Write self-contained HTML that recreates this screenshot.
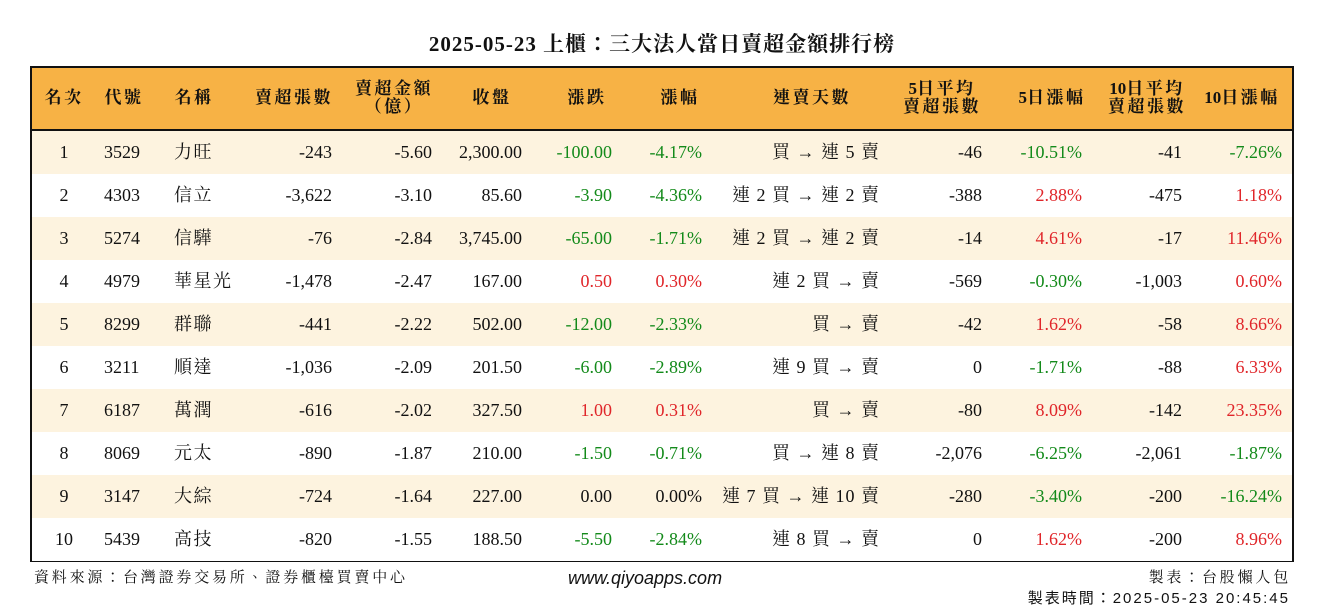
<!DOCTYPE html>
<html><head><meta charset="utf-8">
<style>
body{margin:0;width:1324px;height:612px;background:#fff;position:relative;overflow:hidden;font-family:"Liberation Serif","Noto Serif CJK TC","Noto Serif CJK SC",serif;color:#111}
.abs{position:absolute;white-space:nowrap}
#title{left:0;width:1324px;top:28px;text-align:center;font-size:21px;font-weight:bold;letter-spacing:1px}
#table{left:30px;top:66px;width:1260px;height:492px;border:2px solid #111}
#hdr{left:0;top:0;width:1260px;height:61px;background:#f7b245;border-bottom:3px solid #111}
.h{font-size:17px;font-weight:bold;line-height:18px;text-align:center;letter-spacing:2.5px}
.h .n{letter-spacing:0}
.c{font-size:18px;line-height:20px}
.cjk{letter-spacing:1.5px}
.st{letter-spacing:1px}
.red{color:#e0262a}.green{color:#138a1a}
.foot{font-size:15px;letter-spacing:2.8px}
</style></head><body>
<div id="title" class="abs">2025-05-23 上櫃：三大法人當日賣超金額排行榜</div>
<div id="table" class="abs">
<div id="hdr" class="abs"></div>
</div>
<div class="abs foot" style="left:34px;top:566px">資料來源：台灣證券交易所、證券櫃檯買賣中心</div>
<div class="abs" style="left:568px;top:568px;font-family:'Liberation Sans',sans-serif;font-style:italic;font-size:18px">www.qiyoapps.com</div>
<div class="abs foot" style="right:33px;top:566px">製表：台股懶人包</div>
<div class="abs foot" style="right:34px;top:587px;letter-spacing:2px;font-family:'Liberation Sans','Noto Sans CJK TC',sans-serif">製表時間：2025-05-23 20:45:45</div>
<script>
const headers=["名次","代號","名稱","賣超張數","賣超金額<br>（億）","收盤","漲跌","漲幅","連賣天數","<span class='n'>5</span>日平均<br>賣超張數","<span class='n'>5</span>日漲幅","<span class='n'>10</span>日平均<br>賣超張數","<span class='n'>10</span>日漲幅"];
const ranks=["1","2","3","4","5","6","7","8","9","10"];
const codes=["3529","4303","5274","4979","8299","3211","6187","8069","3147","5439"];
const names=["力旺","信立","信驊","華星光","群聯","順達","萬潤","元太","大綜","高技"];
const sellLots=["-243","-3,622","-76","-1,478","-441","-1,036","-616","-890","-724","-820"];
const sellAmt=["-5.60","-3.10","-2.84","-2.47","-2.22","-2.09","-2.02","-1.87","-1.64","-1.55"];
const closes=["2,300.00","85.60","3,745.00","167.00","502.00","201.50","327.50","210.00","227.00","188.50"];
const changes=["-100.00","-3.90","-65.00","0.50","-12.00","-6.00","1.00","-1.50","0.00","-5.50"];
const pcts=["-4.17%","-4.36%","-1.71%","0.30%","-2.33%","-2.89%","0.31%","-0.71%","0.00%","-2.84%"];
const streaks=["買 → 連 5 賣","連 2 買 → 連 2 賣","連 2 買 → 連 2 賣","連 2 買 → 賣","買 → 賣","連 9 買 → 賣","買 → 賣","買 → 連 8 賣","連 7 買 → 連 10 賣","連 8 買 → 賣"];
const avg5=["-46","-388","-14","-569","-42","0","-80","-2,076","-280","0"];
const pct5=["-10.51%","2.88%","4.61%","-0.30%","1.62%","-1.71%","8.09%","-6.25%","-3.40%","1.62%"];
const avg10=["-41","-475","-17","-1,003","-58","-88","-142","-2,061","-200","-200"];
const pct10=["-7.26%","1.18%","11.46%","0.60%","8.66%","6.33%","23.35%","-1.87%","-16.24%","8.96%"];
const cols=[[32,"center"],[72,"left"],[142,"left"],[300,"right"],[400,"right"],[490,"right"],[580,"right"],[670,"right"],[848,"right"],[950,"right"],[1050,"right"],[1150,"right"],[1250,"right"]];
const hcent=[32,92,162,262,362,460,555,648,780,910,1020,1115,1210];
const tbl=document.getElementById('table');
headers.forEach((h,i)=>{
  const d=document.createElement('div');
  
  
  d.className='abs h';d.innerHTML=h;
  d.style.left=(hcent[i]-60)+'px';d.style.width='120px';
  d.style.top=(h.includes('<br>')?12:21)+'px';
  tbl.appendChild(d);
});
function colorOf(v){if(v.startsWith('-'))return 'green';if(/^0\.00/.test(v))return '';return 'red';}
ranks.forEach((r,i)=>{
  const top=63+i*43;
  const bg=document.createElement('div');
  
  
  bg.className='abs';bg.style.cssText=`left:0;top:${top}px;width:1260px;height:43px;background:${i%2==0?'#fdf3df':'#fff'}`;
  tbl.appendChild(bg);
  const vals=[r,codes[i],names[i],sellLots[i],sellAmt[i],closes[i],changes[i],pcts[i],streaks[i],avg5[i],pct5[i],avg10[i],pct10[i]];
  vals.forEach((v,j)=>{
    const d=document.createElement('div');
    
    
    d.className='abs c';d.textContent=v;
    if(j===2)d.classList.add('cjk');
    if(j===8)d.classList.add('st');
    if([6,7,10,12].includes(j)){const c=colorOf(v);if(c)d.classList.add(c);}
    const [x,a]=cols[j];
    if(a==='center'){d.style.left=(x-30)+'px';d.style.width='60px';d.style.textAlign='center';}
    else if(a==='left'){d.style.left=x+'px';}
    else{d.style.right=(1260-x)+'px';}
    d.style.top=(top+11)+'px';
    tbl.appendChild(d);
  });
});
</script>
</body></html>
